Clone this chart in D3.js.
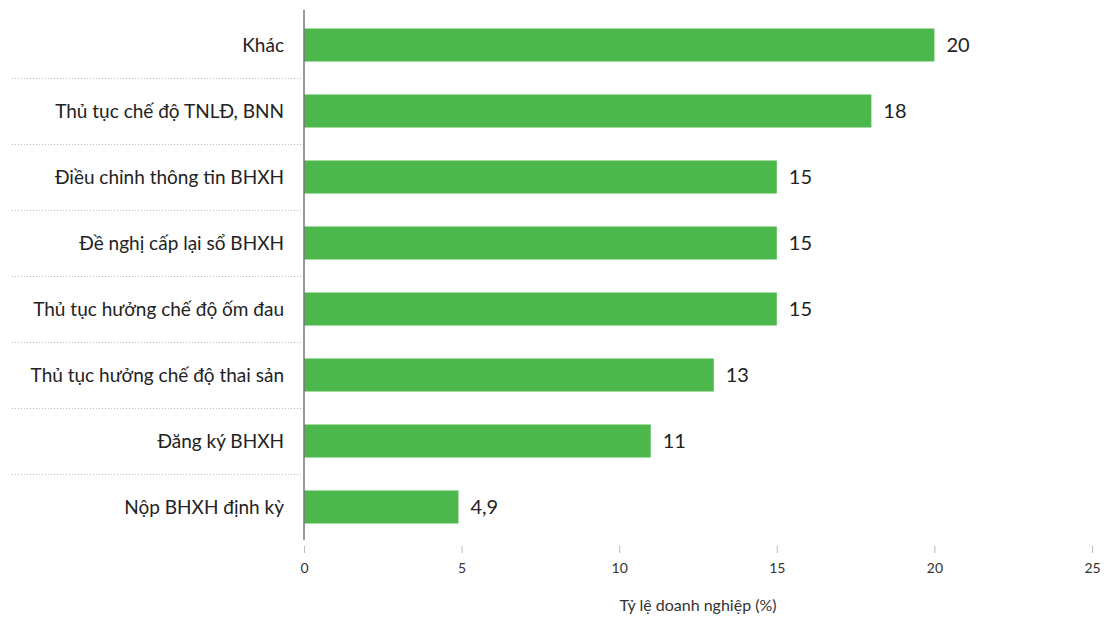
<!DOCTYPE html>
<html>
<head>
<meta charset="utf-8">
<script src="https://cdn.jsdelivr.net/npm/d3@7"></script>
<style>
  html, body { margin: 0; padding: 0; background: #fff; }
  svg { display: block; font-family: Lato, "Noto Sans", sans-serif; }
</style>
</head>
<body>
<svg id="chart" width="1109" height="619"></svg>
<script>
// Categories (top to bottom) and their shares of businesses (%)
const categories = [
  "Khác",
  "Thủ tục chế độ TNLĐ, BNN",
  "Điều chỉnh thông tin BHXH",
  "Đề nghị cấp lại sổ BHXH",
  "Thủ tục hưởng chế độ ốm đau",
  "Thủ tục hưởng chế độ thai sản",
  "Đăng ký BHXH",
  "Nộp BHXH định kỳ"
];
const values = [20, 18, 15, 15, 15, 13, 11, 4.9];
const xTicks = [0, 5, 10, 15, 20, 25];
const xTitle = "Tỷ lệ doanh nghiệp (%)";

const svg = d3.select("#chart");
const plotLeft = 304, plotRight = 1092, plotTop = 12, plotBottom = 540;

const x = d3.scaleLinear().domain([0, 25]).range([plotLeft, plotRight]);
const y = d3.scaleBand().domain(categories).range([plotTop, plotBottom]).paddingInner(0.5).paddingOuter(0.25);

const fmt = v => String(v).replace(".", ",");

// Dotted separators between rows
const gap = y.step() - y.bandwidth();
svg.append("g").selectAll("line")
  .data(categories.slice(1))
  .join("line")
  .attr("x1", 12).attr("x2", plotLeft - 1)
  .attr("y1", d => Math.round(y(d) - gap / 2) + 0.5)
  .attr("y2", d => Math.round(y(d) - gap / 2) + 0.5)
  .attr("stroke", "#bbb").attr("stroke-width", 1)
  .attr("stroke-dasharray", "1,2");

// Bars
svg.append("g").selectAll("rect")
  .data(values)
  .join("rect")
  .attr("x", x(0))
  .attr("y", (d, i) => y(categories[i]))
  .attr("width", d => x(d) - x(0))
  .attr("height", y.bandwidth())
  .attr("fill", "#4cb84b");

// Value labels
svg.append("g").selectAll("text")
  .data(values)
  .join("text")
  .attr("x", d => x(d) + 12)
  .attr("y", (d, i) => y(categories[i]) + y.bandwidth() / 2)
  .attr("dy", "0.36em")
  .attr("font-size", 20)
  .attr("fill", "#222")
  .text(d => fmt(d));

// Category labels
svg.append("g").selectAll("text")
  .data(categories)
  .join("text")
  .attr("x", plotLeft - 20)
  .attr("y", d => y(d) + y.bandwidth() / 2)
  .attr("dy", "0.36em")
  .attr("text-anchor", "end")
  .attr("font-size", 19)
  .attr("fill", "#222")
  .text(d => d);

// Vertical baseline
svg.append("line")
  .attr("x1", plotLeft).attr("x2", plotLeft)
  .attr("y1", 10).attr("y2", plotBottom)
  .attr("stroke", "#777").attr("stroke-width", 1.5);

// X axis
const xAxis = d3.axisBottom(x).tickValues(xTicks).tickSize(7).tickPadding(10).tickFormat(d => d);
const gx = svg.append("g").attr("transform", `translate(0,${plotBottom + 6})`).call(xAxis);
gx.select(".domain").remove();
gx.selectAll(".tick line").attr("stroke", "#bbb");
gx.selectAll(".tick text").attr("font-size", 14).attr("fill", "#333").attr("font-family", "Lato, sans-serif");

// Axis title
svg.append("text")
  .attr("x", (plotLeft + plotRight) / 2)
  .attr("y", 611)
  .attr("text-anchor", "middle")
  .attr("font-size", 16)
  .attr("fill", "#333")
  .text(xTitle);
</script>
</body>
</html>
